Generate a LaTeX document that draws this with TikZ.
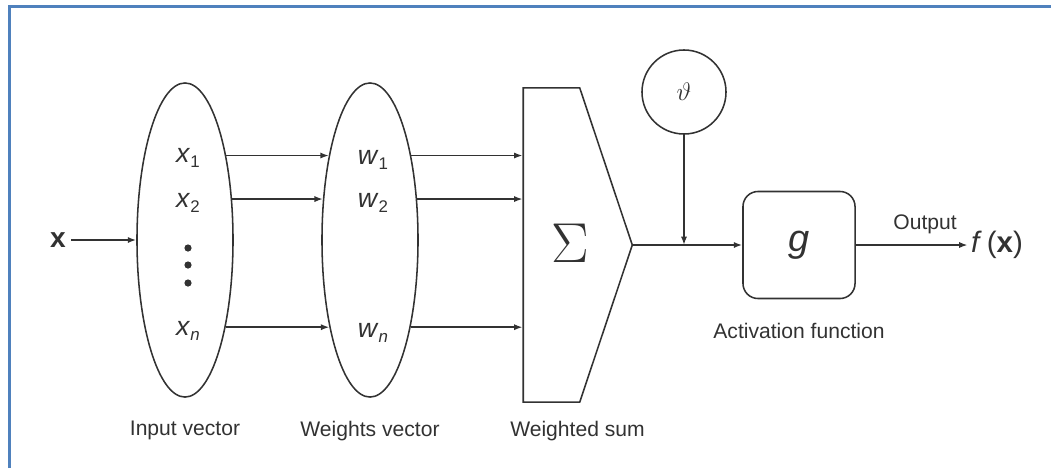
\documentclass[tikz,border=0pt]{standalone}
\usepackage{fix-cm}
\usepackage[no-math]{fontspec}
\setmainfont{Liberation Sans}
\usetikzlibrary{arrows.meta, positioning, shapes.geometric, shapes.symbols}

\definecolor{frameblue}{RGB}{79,129,189}
\definecolor{ink}{RGB}{50,50,50}
% variable with a small subscript
\newcommand{\vsub}[2]{\textit{#1}\raisebox{-0.35ex}{\fontsize{12}{12}\selectfont #2}}

\begin{document}
\begin{tikzpicture}[x=0.025cm, y=-0.025cm, line width=1.1pt, color=ink,
    >={Latex[length=6pt,width=4.4pt]},
    lbl/.style={font=\fontsize{15}{18}\selectfont},
    var/.style={font=\fontsize{19}{22}\selectfont, inner sep=1pt},
    vect/.style={draw, ellipse, minimum width=2.4cm, minimum height=7.85cm, inner sep=0pt}]
    % Fix the page to the size of the reference
    \useasboundingbox (0,0) rectangle (1051,468);
    \def\midy{245}

    % Blue frame, only top and left sides visible
    \draw[frameblue, line width=2pt] (9.3,468) -- (9.3,6.7) -- (1051,6.7);

    % Input and weights vectors
    \node[vect] (in) at (185,240) {};
    \node[vect] (wt) at (370,240) {};
    \node[var] (x1) at (188,158) {\vsub{x}{1}};
    \node[var] (x2) at (188,203) {\vsub{x}{2}};
    \node[var] (xn) at (188,331) {\vsub{x}{\textit{n}}};
    \foreach \y in {248,265,283}
        \fill (188,\y) circle[radius=3.6];
    \node[var] (w1) at (373,160) {\vsub{w}{1}};
    \node[var] (w2) at (373,203) {\vsub{w}{2}};
    \node[var] (wn) at (373,333) {\vsub{w}{\textit{n}}};

    % Input x
    \node[font=\fontsize{20}{22}\selectfont\bfseries] (xin) at (58,240) {x};
    \draw[->] (xin) -- (in.west);

    % Weighted sum
    \node[draw, signal, signal to=east, signal pointer angle=143,
        minimum width=2.725cm, minimum height=7.85cm, inner sep=0pt,
        font=\fontsize{40}{40}\selectfont] (sum) at (551.5,\midy) {\phantom{$\Sigma$}};
    \node[font=\fontsize{40}{40}\selectfont] (sigma) at (570,243) {$\Sigma$};

    \draw[->] (in.64) -- (wt.116);
    \draw[->] (in.41) -- (wt.139);
    \draw[->] (in.-65) -- (wt.-115);
    \draw[->] (wt.64) -- (wt.64 -| sum.west);
    \draw[->] (wt.41) -- (wt.41 -| sum.west);
    \draw[->] (wt.-65) -- (wt.-65 -| sum.west);

    % Threshold and activation function
    \node[draw, circle, minimum size=2.1cm, inner sep=0pt,
        font=\fontsize{18}{20}\selectfont] (th) at (684,92) {$\vartheta$};
    \node[draw, rounded corners=0.375cm, minimum width=2.8cm, minimum height=2.675cm,
        font=\fontsize{27}{30}\selectfont\itshape] (act) at (799,\midy) {g};
    \draw[->] (sum.east) -- (act.west);
    \draw[->] (th.south) -- (th.south |- sum.east);

    % Output
    \node[font=\fontsize{21}{24}\selectfont, inner sep=2pt] (fx) at (997,\midy) {\textit{f}\,(\textbf{x})};
    \draw[->] (act.east) -- (fx.west) node[lbl, pos=0.62, above=4pt] {Output};

    % Labels
    \node[lbl, below=0.45cm of in] (inlbl) {Input vector};
    \node[lbl, below=0.45cm of wt] (wtlbl) {Weights vector};
    \node[lbl, below=0.32cm of sum, xshift=0.65cm] (sumlbl) {Weighted sum};
    \node[lbl, below=0.45cm of act] (actlbl) {Activation function};
\end{tikzpicture}
\end{document}
